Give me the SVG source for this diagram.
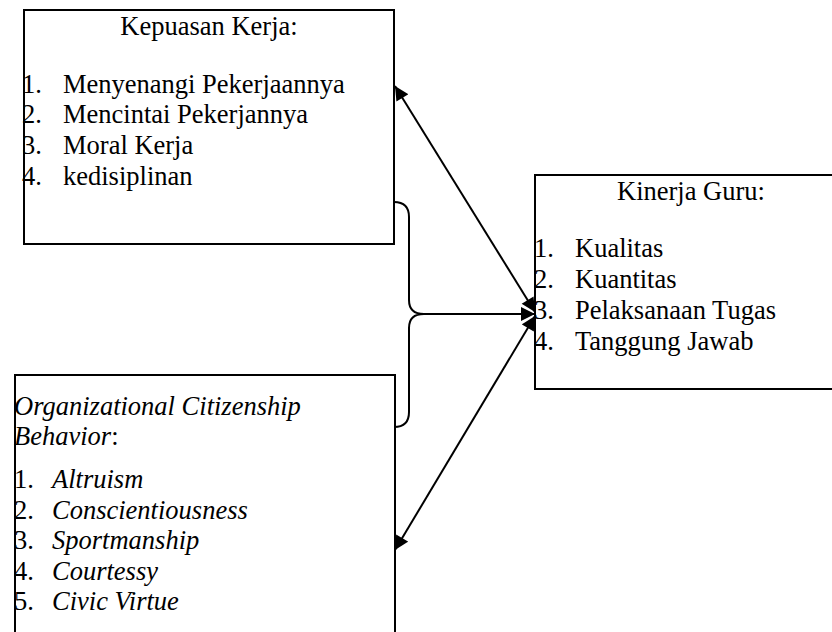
<svg xmlns="http://www.w3.org/2000/svg" width="832" height="632" viewBox="0 0 832 632">
<defs>
<style>
.box{fill:#fff;stroke:#000;stroke-width:2}
.t{font-family:"Liberation Serif","Times New Roman",serif;font-size:26.5px;fill:#000}
.i{font-style:italic}
.c{fill:none;stroke:#000;stroke-width:2}
</style>
<marker id="ah" viewBox="0 0 10 10" refX="10" refY="5" markerWidth="7.5" markerHeight="7" markerUnits="strokeWidth" orient="auto-start-reverse">
<path d="M0,0 L10,5 L0,10 Z" fill="#000"/>
</marker>
</defs>
<rect width="832" height="632" fill="#fff"/>
<g id="kepuasan">
<rect class="box" x="24" y="10" width="370" height="234"/>
<text class="t" x="209" y="35" text-anchor="middle">Kepuasan Kerja:</text>
<text class="t" x="22" y="93">1.</text><text class="t" x="63" y="93">Menyenangi Pekerjaannya</text>
<text class="t" x="22" y="123">2.</text><text class="t" x="63" y="123">Mencintai Pekerjannya</text>
<text class="t" x="22" y="154">3.</text><text class="t" x="63" y="154">Moral Kerja</text>
<text class="t" x="22" y="185">4.</text><text class="t" x="63" y="185">kedisiplinan</text>
</g>
<g id="kinerja">
<rect class="box" x="535" y="175" width="320" height="214"/>
<text class="t" x="691" y="200" text-anchor="middle">Kinerja Guru:</text>
<text class="t" x="534" y="257">1.</text><text class="t" x="575" y="257">Kualitas</text>
<text class="t" x="534" y="288">2.</text><text class="t" x="575" y="288">Kuantitas</text>
<text class="t" x="534" y="319">3.</text><text class="t" x="575" y="319">Pelaksanaan Tugas</text>
<text class="t" x="534" y="350">4.</text><text class="t" x="575" y="350">Tanggung Jawab</text>
</g>
<g id="ocb">
<rect class="box" x="15" y="375" width="380" height="270"/>
<text class="t i" x="14" y="415">Organizational Citizenship</text>
<text class="t" x="14" y="445"><tspan class="i">Behavior</tspan>:</text>
<text class="t" x="14" y="488">1.</text><text class="t i" x="52" y="488">Altruism</text>
<text class="t" x="14" y="519">2.</text><text class="t i" x="52" y="519">Conscientiousness</text>
<text class="t" x="14" y="549">3.</text><text class="t i" x="52" y="549">Sportmanship</text>
<text class="t" x="14" y="580">4.</text><text class="t i" x="52" y="580">Courtessy</text>
<text class="t" x="14" y="610">5.</text><text class="t i" x="52" y="610">Civic Virtue</text>
</g>
<g id="connectors">
<path class="c" d="M394,202 Q409,202 409,217 L409,300 Q409,314 424,314 Q409,314 409,328 L409,412 Q409,427 394,427"/>
<line class="c" x1="424" y1="314" x2="535" y2="314" marker-end="url(#ah)"/>
<line class="c" x1="395" y1="86" x2="535" y2="312" marker-start="url(#ah)" marker-end="url(#ah)"/>
<line class="c" x1="535" y1="316" x2="395" y2="550" marker-start="url(#ah)" marker-end="url(#ah)"/>
</g>
</svg>
